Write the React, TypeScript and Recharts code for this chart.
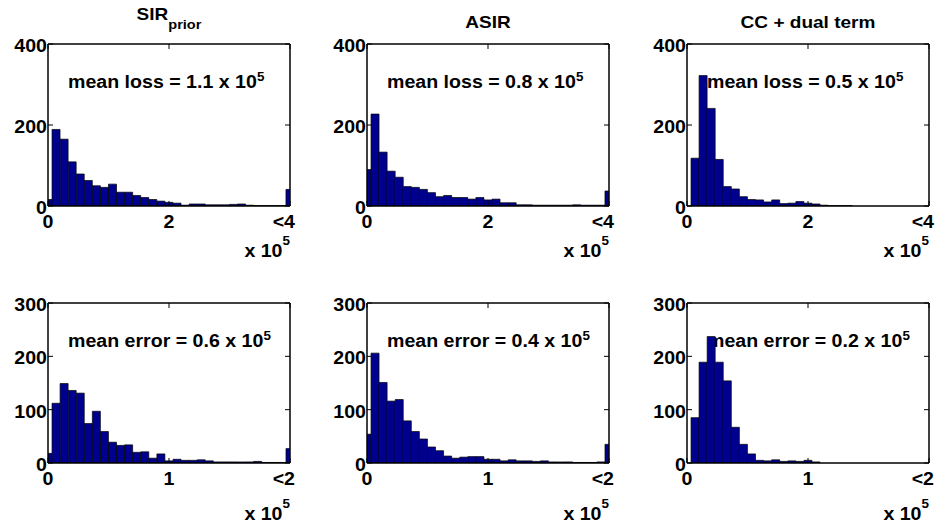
import React from "react";
import { BarChart, Bar, XAxis, YAxis } from "recharts";

// bin centres (x 10^5)
const LOSS_BINS = [
  0, 0.1333, 0.2667, 0.4, 0.5333, 0.6667, 0.8, 0.9333, 1.0667, 1.2, 1.3333, 1.4667, 1.6, 1.7333, 1.8667, 2,
  2.1333, 2.2667, 2.4, 2.5333, 2.6667, 2.8, 2.9333, 3.0667, 3.2, 3.3333, 3.4667, 3.6, 3.7333, 3.8667, 4,
];
const ERROR_BINS = [
  0, 0.0667, 0.1333, 0.2, 0.2667, 0.3333, 0.4, 0.4667, 0.5333, 0.6, 0.6667, 0.7333, 0.8, 0.8667, 0.9333, 1,
  1.0667, 1.1333, 1.2, 1.2667, 1.3333, 1.4, 1.4667, 1.5333, 1.6, 1.6667, 1.7333, 1.8, 1.8667, 1.9333, 2,
];

const LOSS_X_TICKS = [0, 2, 4];
const ERROR_X_TICKS = [0, 1, 2];
const LOSS_Y_TICKS = [0, 200, 400];
const ERROR_Y_TICKS = [0, 100, 200, 300];

const SIR_LOSS = [16, 189, 165, 109, 79, 63, 50, 46, 54, 34, 34, 26, 21, 16, 12, 9, 7, 2, 5, 5, 3, 3, 3, 4, 5, 2, 1, 1, 1, 1, 41];
const ASIR_LOSS = [90, 227, 133, 86, 71, 48, 46, 41, 33, 23, 26, 21, 21, 17, 21, 15, 17, 8, 8, 3, 3, 2, 2, 2, 2, 2, 3, 2, 2, 2, 37];
const CC_LOSS = [0, 118, 322, 241, 115, 48, 42, 23, 16, 15, 10, 15, 6, 7, 11, 7, 5, 2, 1, 1, 1, 0, 0, 0, 0, 0, 0, 0, 0, 0, 0];

const SIR_ERROR = [18, 112, 149, 136, 131, 74, 97, 59, 39, 33, 34, 20, 21, 9, 17, 4, 7, 5, 5, 6, 4, 2, 2, 2, 2, 2, 3, 1, 1, 1, 27];
const ASIR_ERROR = [54, 206, 151, 116, 119, 79, 59, 45, 30, 23, 13, 9, 11, 12, 12, 7, 7, 4, 6, 4, 4, 3, 4, 2, 2, 2, 1, 1, 1, 2, 35];
const CC_ERROR = [0, 85, 189, 237, 189, 154, 67, 35, 17, 5, 4, 6, 3, 4, 3, 5, 2, 0, 0, 0, 0, 0, 0, 0, 0, 0, 0, 0, 0, 0, 0];

const LOSS_NOTES = ["mean loss = 1.1 x 10", "mean loss = 0.8 x 10", "mean loss = 0.5 x 10"];
const ERROR_NOTES = ["mean error = 0.6 x 10", "mean error = 0.4 x 10", "mean error = 0.2 x 10"];

const NAVY = "#00008F";
const FONT = "'Liberation Sans', Arial, Helvetica, sans-serif";
const SX = 1.12; // the source figure is stretched sideways

const PAD_L = 60;
const PAD_T = 40;
const PAD_R = 10;
const PAD_B = 60;
const BOX_W = 242;
const COL_LEFT = [48, 367, 687];

const Txt = ({ x, y, size = 17.5, anchor = "start", children }: any) => (
  <text
    transform={`translate(${x},${y}) scale(${SX},1)`}
    fontSize={size}
    fontWeight="bold"
    fontFamily={FONT}
    textAnchor={anchor}
    fill="#000"
  >
    {children}
  </text>
);

const BottomTick = ({ x, y, payload, xMax }: any) => {
  const last = payload.value === xMax;
  return (
    <g>
      <line x1={x} x2={x} y1={y} y2={y - 5} stroke="#000" />
      <Txt x={last ? x + 5 : x} y={y + 22} anchor={last ? "end" : "middle"}>
        {last ? `<${payload.value}` : payload.value}
      </Txt>
    </g>
  );
};

const TopTick = ({ x, y }: any) => <line x1={x} x2={x} y1={y} y2={y + 5} stroke="#000" />;

const LeftTick = ({ x, y, payload }: any) => (
  <g>
    <line x1={x} x2={x + 5} y1={y} y2={y} stroke="#000" />
    <Txt x={x - 1} y={y + 8} anchor="end">
      {payload.value}
    </Txt>
  </g>
);

const RightTick = ({ x, y }: any) => <line x1={x} x2={x - 5} y1={y} y2={y} stroke="#000" />;

const axisLine = { stroke: "#000", strokeWidth: 1.5 };

interface PanelProps {
  left: number;
  top: number;
  boxH: number;
  bins: number[];
  counts: number[];
  xTicks: number[];
  yTicks: number[];
  note: string;
  unitY: number;
  title?: React.ReactNode;
}

const Panel = ({ left, top, boxH, bins, counts, xTicks, yTicks, note, unitY, title }: PanelProps) => {
  const data = bins.map((x, i) => ({ x, n: counts[i] }));
  const xMax = xTicks[xTicks.length - 1];
  const yMax = yTicks[yTicks.length - 1];
  const W = PAD_L + BOX_W + PAD_R;
  const H = PAD_T + boxH + PAD_B;
  return (
    <div style={{ position: "absolute", left: left - PAD_L, top: top - PAD_T }}>
      <BarChart
        width={W}
        height={H}
        data={data}
        margin={{ top: PAD_T - 2, right: PAD_R - 2, left: 0, bottom: 0 }}
        barCategoryGap={0}
        barGap={0}
      >
        <XAxis
          dataKey="x"
          type="number"
          domain={[0, xMax]}
          ticks={xTicks}
          interval={0}
          allowDataOverflow
          height={PAD_B}
          tickSize={0}
          tickMargin={0}
          tickLine={false}
          axisLine={axisLine}
          tick={(p: any) => <BottomTick {...p} xMax={xMax} />}
        />
        <XAxis
          xAxisId="top"
          orientation="top"
          dataKey="x"
          type="number"
          domain={[0, xMax]}
          ticks={xTicks}
          interval={0}
          allowDataOverflow
          height={2}
          tickSize={0}
          tickMargin={0}
          tickLine={false}
          axisLine={axisLine}
          tick={TopTick}
        />
        <YAxis
          type="number"
          domain={[0, yMax]}
          ticks={yTicks}
          interval={0}
          allowDataOverflow
          width={PAD_L}
          tickSize={0}
          tickMargin={0}
          tickLine={false}
          axisLine={axisLine}
          tick={LeftTick}
        />
        <YAxis
          yAxisId="right"
          orientation="right"
          type="number"
          domain={[0, yMax]}
          ticks={yTicks}
          interval={0}
          allowDataOverflow
          width={2}
          tickSize={0}
          tickMargin={0}
          tickLine={false}
          axisLine={axisLine}
          tick={RightTick}
        />
        <Bar dataKey="n" fill={NAVY} stroke="#000" strokeWidth={0.7} isAnimationActive={false} />
        {title}
        <Txt x={PAD_L + 20} y={PAD_T + 44}>
          {note}
          <tspan dy={-7} fontSize={12}>
            5
          </tspan>
        </Txt>
        <Txt x={PAD_L + BOX_W} y={unitY} anchor="end">
          x 10
          <tspan dy={-12} fontSize={12}>
            5
          </tspan>
        </Txt>
      </BarChart>
    </div>
  );
};

const CX = PAD_L + BOX_W / 2;

const TITLES = [
  <Txt key="t0" x={CX} y={16} size={17} anchor="middle">
    SIR
    <tspan dy={9} fontSize={13}>
      prior
    </tspan>
  </Txt>,
  <Txt key="t1" x={CX} y={24} size={17} anchor="middle">
    ASIR
  </Txt>,
  <Txt key="t2" x={CX} y={24} size={17} anchor="middle">
    CC + dual term
  </Txt>,
];

const LOSS_SERIES = [SIR_LOSS, ASIR_LOSS, CC_LOSS];
const ERROR_SERIES = [SIR_ERROR, ASIR_ERROR, CC_ERROR];

export default function App() {
  return (
    <div style={{ position: "absolute", left: 0, top: 0, width: 939, height: 525, background: "#fff" }}>
      {COL_LEFT.map((left, i) => (
        <Panel
          key={`loss${i}`}
          left={left}
          top={44}
          boxH={162}
          bins={LOSS_BINS}
          counts={LOSS_SERIES[i]}
          xTicks={LOSS_X_TICKS}
          yTicks={LOSS_Y_TICKS}
          note={LOSS_NOTES[i]}
          unitY={253}
          title={TITLES[i]}
        />
      ))}
      {COL_LEFT.map((left, i) => (
        <Panel
          key={`err${i}`}
          left={left}
          top={303}
          boxH={160}
          bins={ERROR_BINS}
          counts={ERROR_SERIES[i]}
          xTicks={ERROR_X_TICKS}
          yTicks={ERROR_Y_TICKS}
          note={ERROR_NOTES[i]}
          unitY={257}
        />
      ))}
    </div>
  );
}
